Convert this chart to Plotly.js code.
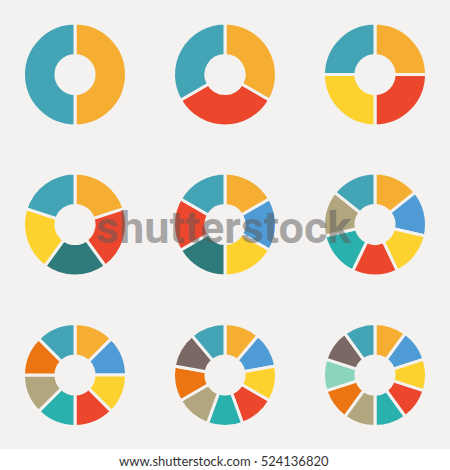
<!DOCTYPE html>
<html>
<head>
<meta charset="utf-8">
<script src="https://cdn.plot.ly/plotly-3.0.1.min.js"></script>
<style>
  html, body { margin: 0; padding: 0; background: #ffffff; }
  #chart { width: 450px; height: 470px; }
</style>
</head>
<body>
<div id="chart"></div>
<script>
// slice colours, clockwise from 12 o'clock
let teal = '#42a4b5';
let orange = '#f5ae32';
let red = '#ec462c';
let yellow = '#fdd22f';
let darkTeal = '#2f7a7b';
let blue = '#4e9bd6';
let turquoise = '#2bb1ad';
let khaki = '#b1a67d';
let darkOrange = '#ec7512';
let brown = '#7a6864';
let mint = '#8ad5bc';

// every ring is split into equal parts
let values2 = [1, 1];
let values3 = [1, 1, 1];
let values4 = [1, 1, 1, 1];
let values5 = [1, 1, 1, 1, 1];
let values6 = [1, 1, 1, 1, 1, 1];
let values7 = [1, 1, 1, 1, 1, 1, 1];
let values8 = [1, 1, 1, 1, 1, 1, 1, 1];
let values9 = [1, 1, 1, 1, 1, 1, 1, 1, 1];
let values10 = [1, 1, 1, 1, 1, 1, 1, 1, 1, 1];

let colors2 = [orange, teal];
let colors3 = [orange, red, teal];
let colors4 = [orange, red, yellow, teal];
let colors5 = [orange, red, darkTeal, yellow, teal];
let colors6 = [orange, blue, yellow, darkTeal, red, teal];
let colors7 = [orange, blue, yellow, red, turquoise, khaki, teal];
let colors8 = [orange, blue, yellow, red, turquoise, khaki, darkOrange, teal];
let colors9 = [orange, blue, yellow, red, turquoise, khaki, darkOrange, brown, teal];
let colors10 = [orange, blue, yellow, red, turquoise, khaki, darkOrange, mint, brown, teal];

let allValues = [values2, values3, values4, values5, values6, values7, values8, values9, values10];
let allColors = [colors2, colors3, colors4, colors5, colors6, colors7, colors8, colors9, colors10];

let W = 450, H = 470;
let bg = '#f4f2f0';
let colCenters = [75, 225, 375];   // px from left
let rowCenters = [74.5, 224.5, 375]; // px from top
let R = 51.5;

let data = allValues.map(function (vals, i) {
  let cx = colCenters[i % 3];
  let cy = rowCenters[Math.floor(i / 3)];
  return {
    type: 'pie',
    values: vals,
    sort: false,
    direction: 'clockwise',
    rotation: 0,
    hole: 0.37,
    textinfo: 'none',
    hoverinfo: 'none',
    showlegend: false,
    marker: { colors: allColors[i], line: { color: bg, width: 3 } },
    domain: {
      x: [(cx - R) / W, (cx + R) / W],
      y: [1 - (cy + R) / H, 1 - (cy - R) / H]
    }
  };
});

let layout = {
  width: W,
  height: H,
  margin: { l: 0, r: 0, t: 0, b: 0 },
  paper_bgcolor: '#ffffff',
  shapes: [
    { type: 'rect', xref: 'paper', yref: 'paper', x0: 0, x1: 1, y0: 1 - 449 / H, y1: 1,
      fillcolor: bg, line: { width: 0 }, layer: 'below' }
  ],
  annotations: [
    {
      text: 'shutterstock', xref: 'paper', yref: 'paper', x: 224 / W, y: 1 - 227 / H,
      showarrow: false, xanchor: 'center', yanchor: 'middle',
      font: { family: 'Roboto', size: 45, color: 'rgba(90,90,90,0.5)', weight: 700 }
    },
    {
      text: 'www.shutterstock.com · 524136820', xref: 'paper', yref: 'paper', x: 0.497, y: 1 - 461 / H,
      showarrow: false, xanchor: 'center', yanchor: 'middle',
      font: { family: 'Lato', size: 13, color: '#333333' }
    }
  ]
};

Plotly.newPlot('chart', data, layout, { staticPlot: true, displayModeBar: false });
</script>
</body>
</html>
